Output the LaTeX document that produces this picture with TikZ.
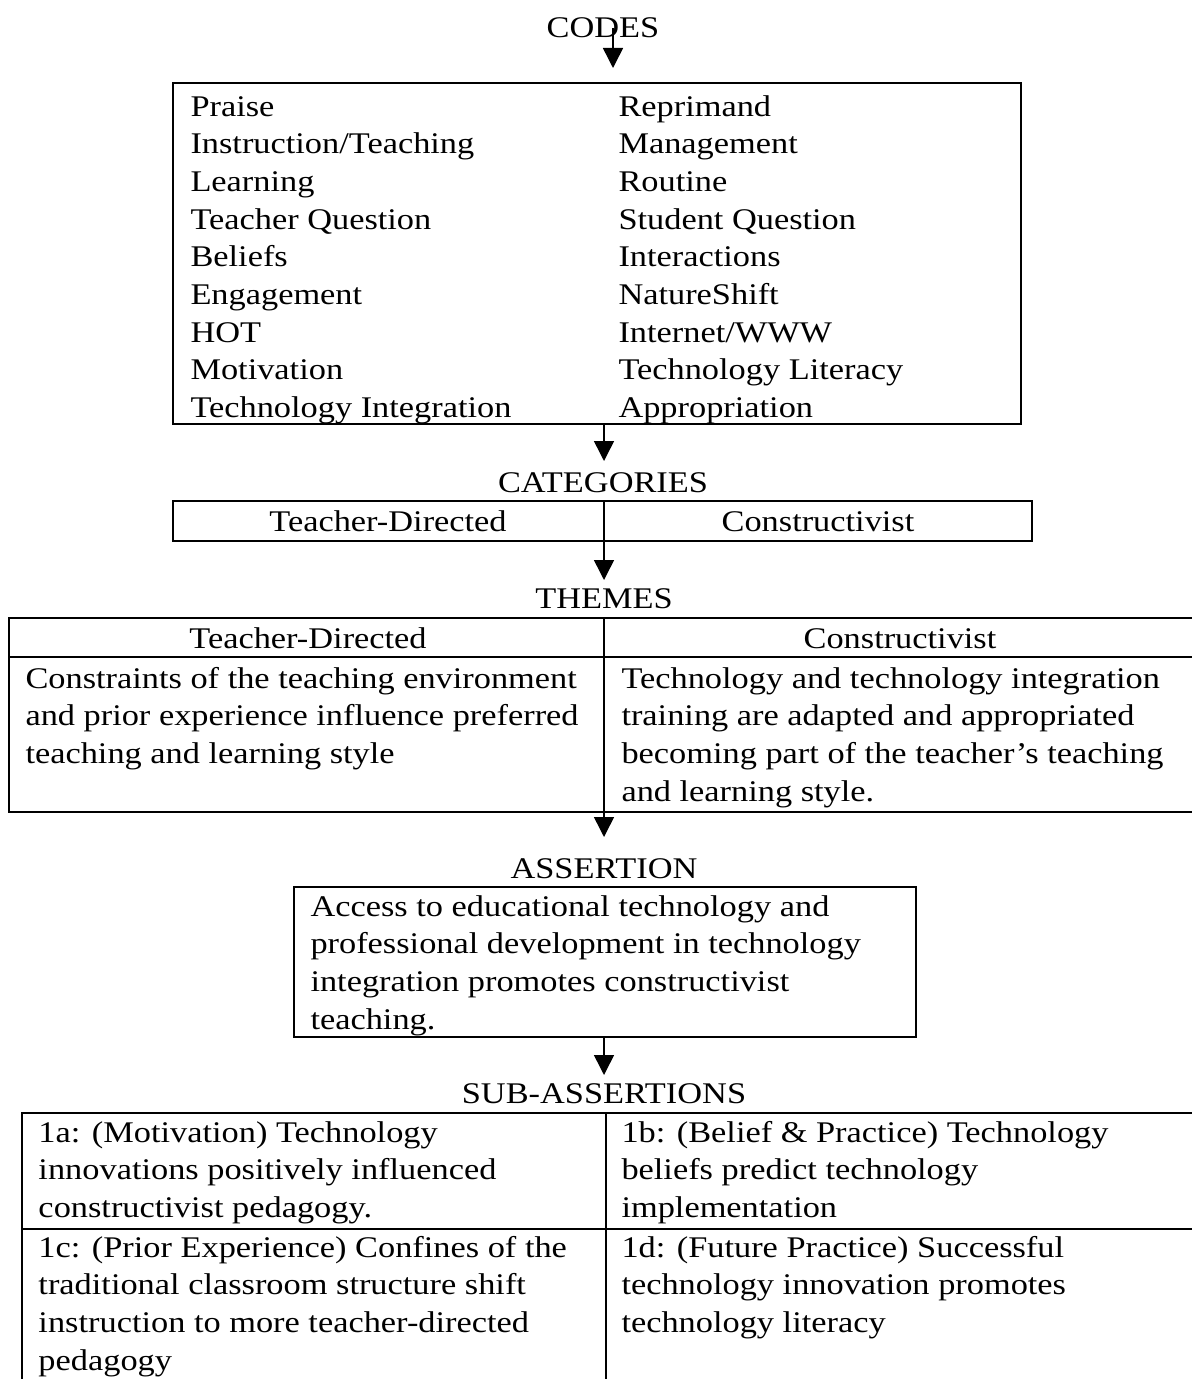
\documentclass[tikz,border=0pt]{standalone}
\usepackage{fontspec}
\setmainfont{Liberation Serif}[FakeStretch=1.145]
\usetikzlibrary{arrows.meta}
\tikzset{
  txt/.style={inner sep=0pt, font=\fontsize{12}{15.08}\selectfont},
  boxline/.style={draw=black, line width=0.9pt},
  arr/.style={draw=black, line width=0.6pt, -{Triangle[width=8pt,length=8pt]}},
  divline/.style={draw=black, line width=0.7pt},
}
\begin{document}
\begin{tikzpicture}[x=0.4pt,y=-0.4pt]
\useasboundingbox (0,0) rectangle (1192,1379);
\clip (0,0) rectangle (1192,1379);
\fill[white] (0,0) rectangle (1192,1379);

% ---------- CODES ----------
\node[txt, anchor=base] (codes) at (603,38) {CODES};
\coordinate (a0s) at (613,28);
\coordinate (a0e) at (613,68);
\draw[arr] (a0s) -- (a0e);

\draw[boxline] (173,83) rectangle (1021,424);
\coordinate (codesbox) at (604,424);
\node[txt, anchor=base west] (codesL) at (190,116) {\parbox[t]{160pt}{Praise\\Instruction/Teaching\\Learning\\Teacher Question\\Beliefs\\Engagement\\HOT\\Motivation\\Technology Integration}};
\node[txt, anchor=base west] (codesR) at (618,116) {\parbox[t]{160pt}{Reprimand\\Management\\Routine\\Student Question\\Interactions\\NatureShift\\Internet/WWW\\Technology Literacy\\Appropriation}};

\coordinate (a1e) at (604,461);
\draw[arr] (codesbox) -- (a1e);

% ---------- CATEGORIES ----------
\node[txt, anchor=base] (categories) at (603,492) {CATEGORIES};
\draw[boxline] (173,501) rectangle (1032,541);
\node[txt, anchor=base] (catTD) at (388,531) {Teacher-Directed};
\node[txt, anchor=base] (catC) at (818,531) {Constructivist};
\coordinate (catTop) at (604,501);
\coordinate (a2e) at (604,580);
\draw[arr] (catTop) -- (a2e);

% ---------- THEMES ----------
\node[txt, anchor=base] (themes) at (604,608) {THEMES};
\draw[boxline] (9,618) rectangle (1215,812);
\draw[boxline] (9,657) -- (1215,657);
\node[txt, anchor=base] (thTD) at (308,648) {Teacher-Directed};
\node[txt, anchor=base] (thC) at (900,648) {Constructivist};
\node[txt, anchor=base west] (thL) at (25,688) {\parbox[t]{240pt}{Constraints of the teaching environment\\and prior experience influence preferred\\teaching and learning style}};
\node[txt, anchor=base west] (thR) at (621,688) {\parbox[t]{240pt}{Technology and technology integration\\training are adapted and appropriated\\becoming part of the teacher’s teaching\\and learning style.}};
\coordinate (thTop) at (604,618);
\coordinate (a3e) at (604,837);
\draw[arr] (thTop) -- (a3e);

% ---------- ASSERTION ----------
\node[txt, anchor=base] (assertion) at (604,878) {ASSERTION};
\draw[boxline] (294,887) rectangle (916,1037);
\node[txt, anchor=base west] (asText) at (310,916) {\parbox[t]{240pt}{Access to educational technology and\\professional development in technology\\integration promotes constructivist\\teaching.}};
\coordinate (asBottom) at (604,1037);
\coordinate (a4e) at (604,1075);
\draw[arr] (asBottom) -- (a4e);

% ---------- SUB-ASSERTIONS ----------
\node[txt, anchor=base] (subassertions) at (604,1103) {SUB-ASSERTIONS};
\draw[boxline] (22,1113) rectangle (1215,1400);
\draw[boxline] (22,1229) -- (1215,1229);
\coordinate (subTop) at (606,1113);
\coordinate (subBot) at (606,1400);
\draw[divline] (subTop) -- (subBot);
\node[txt, anchor=base west] (s1a) at (38,1142) {\parbox[t]{240pt}{1a: (Motivation) Technology\\innovations positively influenced\\constructivist pedagogy.}};
\node[txt, anchor=base west] (s1b) at (621,1142) {\parbox[t]{240pt}{1b: (Belief \& Practice) Technology\\beliefs predict technology\\implementation}};
\node[txt, anchor=base west] (s1c) at (38,1257) {\parbox[t]{240pt}{1c: (Prior Experience) Confines of the\\traditional classroom structure shift\\instruction to more teacher-directed\\pedagogy}};
\node[txt, anchor=base west] (s1d) at (621,1257) {\parbox[t]{240pt}{1d: (Future Practice) Successful\\technology innovation promotes\\technology literacy}};
\end{tikzpicture}
\end{document}
